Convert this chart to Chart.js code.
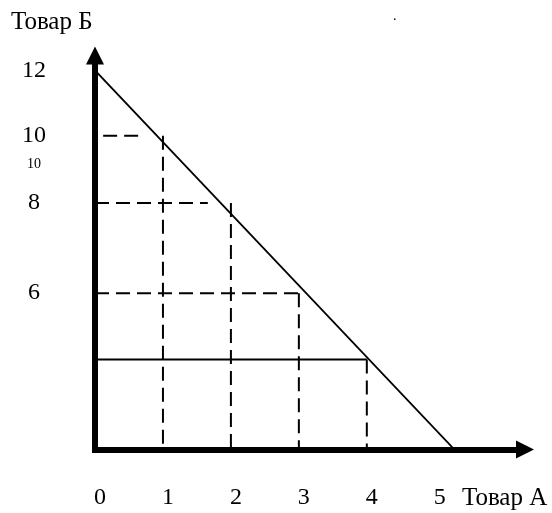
<!DOCTYPE html>
<html>
<head>
<meta charset="utf-8">
<script src="https://cdn.jsdelivr.net/npm/chart.js@4/dist/chart.umd.min.js"></script>
<style>
  html, body { margin: 0; padding: 0; background: #fff; }
  #wrap { width: 552px; height: 513px; }
</style>
</head>
<body>
<div id="wrap"><canvas id="chart"></canvas></div>
<script>
// budget line: Товар А (x) vs Товар Б (y)
const budgetA = [0, 5.29];
const budgetB = [12, 0];

// guide lines
const guideA = [1, 2, 3, 4];
const guideB = [9.93, 7.8, 4.95, 2.85];
const hStart = [0.12, 0, 0, 0];
const hEnd = [0.69, 1.66, 3, 4];
const hDashed = [true, true, true, false];

const xTickValues = [0, 1, 2, 3, 4, 5];
const xTickLabels = ['0', '1', '2', '3', '4', '5'];
const yTickValues = [12, 9.93, 9.02, 7.8, 4.95];
const yTickLabels = ['12', '10', '10', '8', '6'];

const SERIF = '"Liberation Serif", "Times New Roman", serif';
const DASH = [14, 7];

const datasets = [{
  data: budgetA.map((a, i) => ({ x: a, y: budgetB[i] })),
  borderColor: '#000',
  borderWidth: 1.8,
}];
guideA.forEach((a, i) => {
  datasets.push({
    data: [{ x: hStart[i], y: guideB[i] }, { x: hEnd[i], y: guideB[i] }],
    borderColor: '#000',
    borderWidth: 2,
    borderDash: hDashed[i] ? DASH : [],
  });
  datasets.push({
    data: [{ x: a, y: guideB[i] }, { x: a, y: 0 }],
    borderColor: '#000',
    borderWidth: 2,
    borderDash: DASH,
  });
});

const arrowsAndTitles = {
  id: 'arrowsAndTitles',
  afterDraw(chart) {
    const { ctx, chartArea: ca } = chart;
    ctx.save();
    ctx.fillStyle = '#000';
    // y arrow
    ctx.beginPath();
    ctx.moveTo(ca.left, ca.top - 17);
    ctx.lineTo(ca.left - 9, ca.top + 1);
    ctx.lineTo(ca.left + 9, ca.top + 1);
    ctx.closePath();
    ctx.fill();
    // x arrow
    ctx.beginPath();
    ctx.moveTo(ca.right + 17, ca.bottom);
    ctx.lineTo(ca.right - 1, ca.bottom - 9);
    ctx.lineTo(ca.right - 1, ca.bottom + 9);
    ctx.closePath();
    ctx.fill();

    ctx.font = '25px ' + SERIF;
    ctx.textBaseline = 'middle';
    ctx.textAlign = 'left';
    ctx.fillText('Товар Б', 11, 22);
    ctx.fillText('Товар А', 462, 498);
    ctx.font = '14px ' + SERIF;
    ctx.fillText('.', 393, 16);
    ctx.restore();
  }
};

new Chart(document.getElementById('chart'), {
  type: 'scatter',
  data: { datasets },
  options: {
    responsive: true,
    maintainAspectRatio: false,
    animation: false,
    showLine: true,
    layout: { padding: { top: 60, right: 35, bottom: 0, left: 0 } },
    elements: { point: { radius: 0, hoverRadius: 0 }, line: { tension: 0 } },
    plugins: { legend: { display: false }, tooltip: { enabled: false } },
    scales: {
      x: {
        type: 'linear',
        min: 0,
        max: 6.21,
        afterFit: (s) => { s.height = 63; },
        afterBuildTicks: (s) => { s.ticks = xTickValues.map((v) => ({ value: v })); },
        grid: { display: false, drawTicks: false },
        border: { display: true, color: '#000', width: 6 },
        ticks: {
          color: '#000',
          padding: 34,
          labelOffset: 5,
          maxRotation: 0,
          autoSkip: false,
          font: { family: SERIF, size: 24 },
          callback: (v, i) => xTickLabels[i],
        },
      },
      y: {
        type: 'linear',
        min: 0,
        max: 12.22,
        afterFit: (s) => { s.width = 95; },
        afterBuildTicks: (s) => { s.ticks = yTickValues.map((v) => ({ value: v })); },
        grid: { display: false, drawTicks: false },
        border: { display: true, color: '#000', width: 6 },
        ticks: {
          color: '#000',
          padding: 49,
          crossAlign: 'center',
          autoSkip: false,
          font: (c) => ({ family: SERIF, size: c.index === 2 ? 14 : 24 }),
          callback: (v, i) => yTickLabels[i],
        },
      },
    },
  },
  plugins: [arrowsAndTitles],
});
</script>
</body>
</html>
